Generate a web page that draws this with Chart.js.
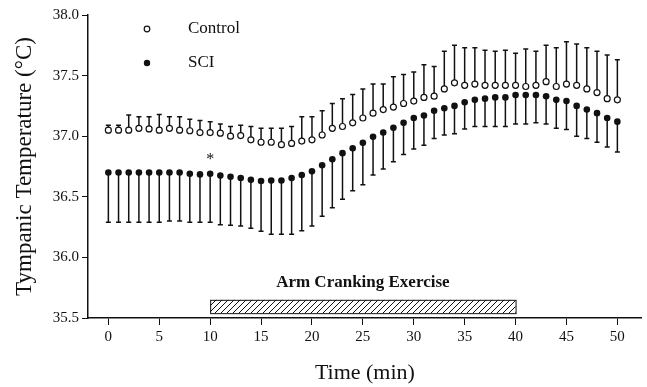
<!DOCTYPE html>
<html>
<head>
<meta charset="utf-8">
<script src="https://cdn.jsdelivr.net/npm/chart.js@4.4.1/dist/chart.umd.min.js"></script>
<style>
  html, body { margin: 0; padding: 0; background: #fff; }
  #wrap { width: 647px; height: 387px; }
</style>
</head>
<body>
<div id="wrap"><canvas id="chart" width="647" height="387"></canvas></div>
<script>
/* Tympanic temperature during arm cranking, Control vs SCI (mean with one-sided error bars) */
const minutes = [0, 1, 2, 3, 4, 5, 6, 7, 8, 9, 10, 11, 12, 13, 14, 15, 16, 17, 18, 19, 20,
  21, 22, 23, 24, 25, 26, 27, 28, 29, 30, 31, 32, 33, 34, 35, 36, 37, 38, 39, 40,
  41, 42, 43, 44, 45, 46, 47, 48, 49, 50];

const ctrlMean = [37.05, 37.05, 37.05, 37.065, 37.06, 37.05, 37.065, 37.05, 37.045, 37.03,
  37.03, 37.025, 37.00, 37.005, 36.97, 36.95, 36.95, 36.93, 36.94, 36.96,
  36.97, 37.01, 37.065, 37.08, 37.11, 37.15, 37.19, 37.22, 37.24, 37.27,
  37.29, 37.32, 37.33, 37.39, 37.44, 37.42, 37.43, 37.42, 37.42, 37.42,
  37.42, 37.41, 37.42, 37.45, 37.41, 37.43, 37.42, 37.39, 37.36, 37.31, 37.30];
const ctrlHigh = [37.09, 37.09, 37.175, 37.16, 37.16, 37.18, 37.16, 37.16, 37.14, 37.13,
  37.12, 37.10, 37.08, 37.09, 37.08, 37.065, 37.065, 37.065, 37.08, 37.16,
  37.16, 37.21, 37.27, 37.31, 37.345, 37.39, 37.43, 37.43, 37.49, 37.51,
  37.53, 37.59, 37.575, 37.70, 37.75, 37.73, 37.73, 37.71, 37.70, 37.71,
  37.685, 37.72, 37.70, 37.75, 37.73, 37.78, 37.76, 37.73, 37.70, 37.67, 37.63];

const sciMean = [36.70, 36.70, 36.70, 36.70, 36.70, 36.70, 36.70, 36.70, 36.69, 36.685,
  36.69, 36.675, 36.665, 36.655, 36.64, 36.63, 36.635, 36.635, 36.655, 36.68,
  36.71, 36.76, 36.81, 36.86, 36.90, 36.945, 36.995, 37.03, 37.07, 37.11,
  37.15, 37.17, 37.21, 37.23, 37.25, 37.28, 37.30, 37.31, 37.32, 37.32,
  37.34, 37.34, 37.34, 37.33, 37.30, 37.29, 37.25, 37.22, 37.19, 37.15, 37.12];
const sciLow = [36.29, 36.29, 36.29, 36.29, 36.29, 36.29, 36.30, 36.30, 36.29, 36.29,
  36.29, 36.27, 36.265, 36.26, 36.24, 36.215, 36.19, 36.19, 36.19, 36.22,
  36.26, 36.34, 36.41, 36.48, 36.55, 36.60, 36.68, 36.73, 36.79, 36.85,
  36.895, 36.925, 36.98, 37.01, 37.02, 37.06, 37.08, 37.08, 37.08, 37.08,
  37.10, 37.10, 37.11, 37.10, 37.065, 37.055, 37.00, 36.98, 36.95, 36.91, 36.87];

const xTicks = [0, 5, 10, 15, 20, 25, 30, 35, 40, 45, 50];
const exercise = [10, 40];          // minutes of arm cranking
const exerciseBand = [35.54, 35.65]; // vertical extent of the hatched bar
const marked = [10, 36.83];         // asterisk position (min, °C)

const SERIF = '"Liberation Serif", "DejaVu Serif", serif';
const INK = '#111';

function hatch(ctx) {
  const c = document.createElement('canvas'); c.width = 6; c.height = 6;
  const g = c.getContext('2d');
  g.strokeStyle = INK; g.lineWidth = 1;
  g.beginPath();
  g.moveTo(0, 6); g.lineTo(6, 0);
  g.moveTo(-3, 3); g.lineTo(3, -3);
  g.moveTo(3, 9); g.lineTo(9, 3);
  g.stroke();
  return ctx.createPattern(c, 'repeat');
}

/* Error bars: Control upward, SCI downward, with short caps */
const errorBars = {
  id: 'errorBars',
  beforeDatasetsDraw(chart) {
    const { ctx, scales: { x, y } } = chart;
    ctx.save();
    ctx.strokeStyle = INK; ctx.lineWidth = 1.5;
    const whisk = (m, a, b) => {
      const px = x.getPixelForValue(m), p1 = y.getPixelForValue(a), p2 = y.getPixelForValue(b);
      ctx.beginPath();
      ctx.moveTo(px, p1); ctx.lineTo(px, p2);
      ctx.moveTo(px - 2.5, p2); ctx.lineTo(px + 2.5, p2);
      ctx.stroke();
    };
    minutes.forEach((m, i) => { whisk(m, ctrlMean[i], ctrlHigh[i]); whisk(m, sciMean[i], sciLow[i]); });
    ctx.restore();
  },
  afterDatasetsDraw(chart) {
    const { ctx, chartArea: a, scales: { x, y } } = chart;
    ctx.save();
    // exercise bar
    const x1 = x.getPixelForValue(exercise[0]), x2 = x.getPixelForValue(exercise[1]);
    const y1 = y.getPixelForValue(exerciseBand[1]), y2 = y.getPixelForValue(exerciseBand[0]);
    ctx.fillStyle = hatch(ctx);
    ctx.fillRect(x1, y1, x2 - x1, y2 - y1);
    ctx.strokeStyle = INK; ctx.lineWidth = 1;
    ctx.strokeRect(x1 + 0.5, y1 + 0.5, x2 - x1, y2 - y1);
    ctx.fillStyle = INK;
    ctx.textAlign = 'center'; ctx.textBaseline = 'middle';
    ctx.font = 'bold 17px ' + SERIF;
    ctx.fillText('Arm Cranking Exercise', x.getPixelForValue((exercise[0] + exercise[1]) / 2), y.getPixelForValue(35.79));
    // asterisk
    ctx.font = '16px ' + SERIF;
    ctx.fillText('*', x.getPixelForValue(marked[0]), y.getPixelForValue(marked[1]) + 3);
    // legend
    const lx = a.left + 59, ly1 = a.top + 14, ly2 = a.top + 48;
    ctx.lineWidth = 1.2;
    ctx.beginPath(); ctx.arc(lx, ly1, 2.8, 0, Math.PI * 2);
    ctx.fillStyle = '#fff'; ctx.fill(); ctx.strokeStyle = INK; ctx.stroke();
    ctx.beginPath(); ctx.arc(lx, ly2, 3.2, 0, Math.PI * 2);
    ctx.fillStyle = INK; ctx.fill();
    ctx.textAlign = 'left';
    ctx.font = '17px ' + SERIF;
    ctx.fillText('Control', lx + 41, ly1);
    ctx.fillText('SCI', lx + 41, ly2);
    ctx.restore();
  },
};

new Chart(document.getElementById('chart'), {
  type: 'line',
  data: {
    datasets: [
      { label: 'Control', data: minutes.map((m, i) => ({ x: m, y: ctrlMean[i] })), showLine: false,
        pointRadius: 3, pointBorderWidth: 1.2, pointBackgroundColor: '#fff', pointBorderColor: INK },
      { label: 'SCI', data: minutes.map((m, i) => ({ x: m, y: sciMean[i] })), showLine: false,
        pointRadius: 3.3, pointBorderWidth: 0, pointBackgroundColor: INK, pointBorderColor: INK },
    ],
  },
  options: {
    responsive: false, animation: false, devicePixelRatio: 1,
    layout: { padding: { top: 15, right: 2, left: 0, bottom: 0 } },
    plugins: { legend: { display: false }, tooltip: { enabled: false } },
    scales: {
      x: {
        type: 'linear', min: -2, max: 52.4,
        afterBuildTicks: (s) => { s.ticks = xTicks.map((v) => ({ value: v })); },
        afterFit: (s) => { s.height = 69; },
        ticks: { color: INK, font: { family: SERIF, size: 15 }, padding: 3, maxRotation: 0 },
        grid: { drawOnChartArea: false, drawTicks: true, tickLength: 7, color: INK, lineWidth: 1 },
        border: { color: INK, width: 1.5 },
        title: { display: true, text: 'Time (min)', color: INK, font: { family: SERIF, size: 22 }, padding: { top: 0, bottom: 1 } },
      },
      y: {
        min: 35.5, max: 38.0,
        afterFit: (s) => { s.width = 88; },
        ticks: { stepSize: 0.5, color: INK, font: { family: SERIF, size: 15 }, padding: 3, callback: (v) => v.toFixed(1) },
        grid: { drawOnChartArea: false, drawTicks: true, tickLength: 6, color: INK, lineWidth: 1 },
        border: { color: INK, width: 1.5 },
        title: { display: true, text: 'Tympanic Temperature (°C)', color: INK, font: { family: SERIF, size: 23 }, padding: { top: 11, bottom: 0 } },
      },
    },
  },
  plugins: [errorBars],
});
</script>
</body>
</html>
